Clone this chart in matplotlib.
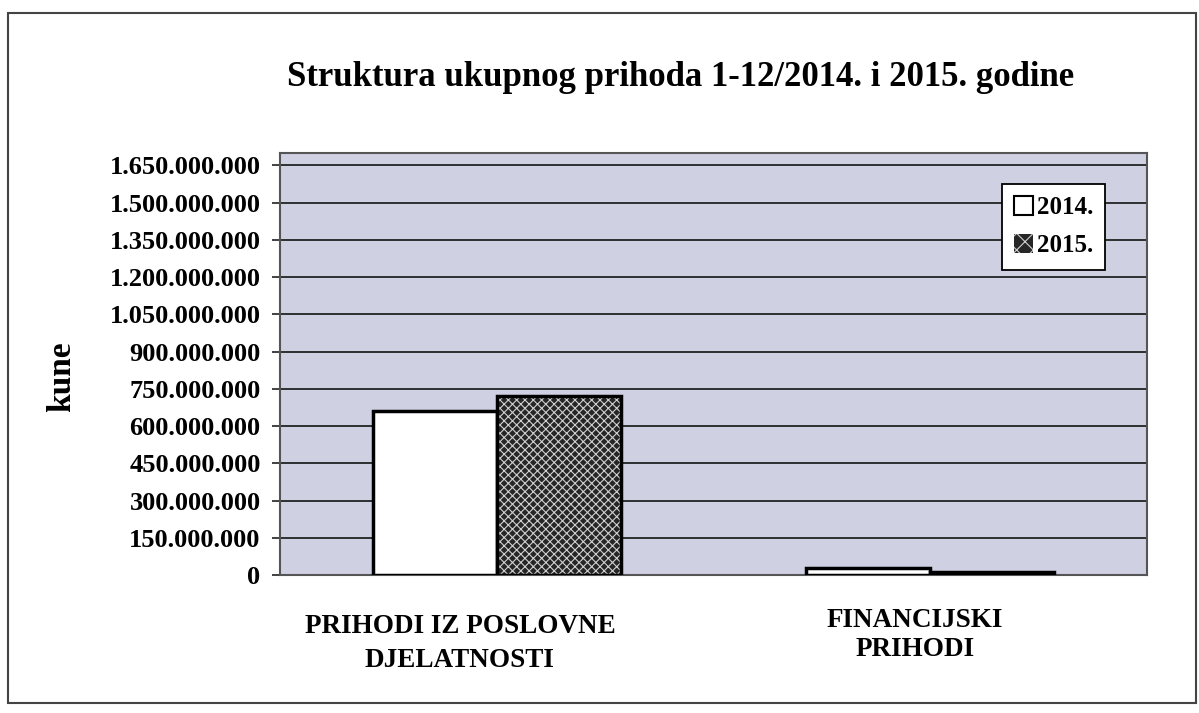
import matplotlib.pyplot as plt
import matplotlib.patches as mpatches
import numpy as np

categories = ["PRIHODI IZ POSLOVNE\nDJELATNOSTI", "FINANCIJSKI\nPRIHODI"]
years = ["2014.", "2015."]
prihodi_2014 = [659000000, 28000000]
prihodi_2015 = [720000000, 12000000]
y_ticks = np.arange(0, 1650000001, 150000000)

plt.rcParams['font.family'] = ['Liberation Serif', 'DejaVu Serif']
plt.rcParams['font.weight'] = 'bold'
plt.rcParams['hatch.linewidth'] = 0.8

fig = plt.figure(figsize=(11.99, 7.13), dpi=100)
ax = fig.add_axes([280 / 1199, 1 - 575 / 713, 867 / 1199, 422 / 713])
ax.set_facecolor('#cfd1e3')

x = np.arange(len(categories))
w = 0.286

# 2014 - bijeli stupci
ax.bar(x - w / 2, prihodi_2014, w, color='white', edgecolor='black',
       linewidth=2.5, zorder=3)
# 2015 - tamni uzorak
ax.bar(x + w / 2, prihodi_2015, w, color='#262626', edgecolor='#d0d0d0',
       hatch='xxxx', linewidth=0, zorder=3)
ax.bar(x + w / 2, prihodi_2015, w, fill=False, edgecolor='black',
       linewidth=2.5, zorder=4)

ax.set_xlim(-0.5, 1.5)
ax.set_ylim(0, 1700000000)
ax.set_yticks(y_ticks)
ax.set_yticklabels([f"{v:,}".replace(",", ".") for v in y_ticks],
                   fontsize=19, fontweight='bold')
ax.yaxis.grid(True, color='#222222', linewidth=1.3, zorder=1)
ax.set_axisbelow(True)
ax.tick_params(axis='y', direction='out', length=6, width=1.3,
               color='#333333', pad=8)
ax.set_xticks([])
for s in ax.spines.values():
    s.set_color('#555555')
    s.set_linewidth(1.5)

# nazivi kategorija (u originalu malo pomaknuti ulijevo)
ax.text(x[0] - 0.085, -0.093, categories[0],
        transform=ax.get_xaxis_transform(), ha='center', va='top',
        fontsize=19.5, fontweight='bold', linespacing=1.48)
ax.text(x[1] - 0.035, -0.078, categories[1],
        transform=ax.get_xaxis_transform(), ha='center', va='top',
        fontsize=19.5, fontweight='bold', linespacing=1.23)

fig.text(62 / 1199, 1 - 377 / 713, 'kune', rotation=90, ha='center',
         va='center', fontsize=24, fontweight='bold')

h1 = mpatches.Patch(facecolor='white', edgecolor='black', linewidth=1.5)
h2 = mpatches.Patch(facecolor='#262626', edgecolor='#d0d0d0', hatch='xx',
                    linewidth=0)
leg = ax.legend([h1, h2], years, loc='upper right',
                bbox_to_anchor=(0.952, 0.927), borderaxespad=0,
                fancybox=False, framealpha=1, edgecolor='black',
                prop={'size': 18, 'weight': 'bold'},
                handlelength=0.75, handleheight=0.75, handletextpad=0.15,
                labelspacing=0.6, borderpad=0.5)
leg.get_frame().set_linewidth(1.3)

fig.text(681 / 1199, 1 - 78 / 713,
         'Struktura ukupnog prihoda 1-12/2014. i 2015. godine',
         ha='center', va='center', fontsize=25, fontweight='bold')

# okvir slike
fig.patches.append(mpatches.Rectangle((8 / 1199, 1 - 703 / 713),
                                      1188 / 1199, 690 / 713,
                                      transform=fig.transFigure, fill=False,
                                      edgecolor='#444444', linewidth=1.5))

plt.savefig('out.png', dpi=100)
